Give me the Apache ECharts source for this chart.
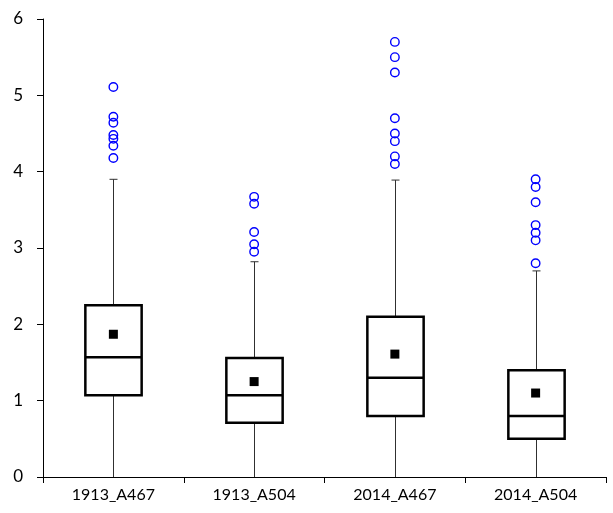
<!DOCTYPE html>
<html>
<head>
<meta charset="utf-8">
<script src="https://cdn.jsdelivr.net/npm/echarts@6/dist/echarts.min.js"></script>
<style>
  html, body { margin: 0; padding: 0; background: #fff; }
  #chart { width: 613px; height: 513px; }
</style>
</head>
<body>
<div id="chart"></div>
<script>
// Site/year groups along the x axis
const categories = ['1913_A467', '1913_A504', '2014_A467', '2014_A504'];

// Five-number summaries per group: [min, Q1, median, Q3, upper whisker]
const boxStats = [
  [0, 1.07, 1.57, 2.25, 3.90],
  [0, 0.71, 1.07, 1.56, 2.82],
  [0, 0.80, 1.30, 2.10, 3.89],
  [0, 0.50, 0.80, 1.40, 2.70]
];

// Group means
const means = [1.87, 1.25, 1.61, 1.10];

// Outlying values per group
const outliers = [
  [5.11, 4.72, 4.64, 4.48, 4.43, 4.34, 4.18],
  [3.67, 3.58, 3.21, 3.05, 2.95],
  [5.70, 5.50, 5.30, 4.70, 4.50, 4.40, 4.20, 4.10],
  [3.90, 3.80, 3.60, 3.30, 3.20, 3.10, 2.80]
];

// Y axis ticks
const yTicks = [0, 1, 2, 3, 4, 5, 6];

const boxData = boxStats.map((s, i) => [i].concat(s));
const meanData = means.map((m, i) => [i, m]);
const outlierData = [];
outliers.forEach((list, i) => list.forEach(v => outlierData.push([i, v])));

const FONT = 'Lato, "Open Sans", sans-serif';

function renderBox(params, api) {
  const idx = api.value(0);
  const pMin = api.coord([idx, api.value(1)]);
  const pQ1 = api.coord([idx, api.value(2)]);
  const pMed = api.coord([idx, api.value(3)]);
  const pQ3 = api.coord([idx, api.value(4)]);
  const pMax = api.coord([idx, api.value(5)]);
  const bandW = api.size([1, 0])[0];
  const half = bandW * 0.2;
  const cap = 4;
  const x = Math.round(pQ1[0]) + 0.5;
  const whisker = { stroke: '#303030', lineWidth: 1 };
  const boxLine = { stroke: '#000', lineWidth: 2.5, fill: null };
  return {
    type: 'group',
    children: [
      { type: 'line', shape: { x1: x, y1: pQ3[1], x2: x, y2: pMax[1] }, style: whisker },
      { type: 'line', shape: { x1: x - cap, y1: pMax[1], x2: x + cap, y2: pMax[1] }, style: whisker },
      { type: 'line', shape: { x1: x, y1: pQ1[1], x2: x, y2: pMin[1] }, style: whisker },
      { type: 'rect', shape: { x: x - half, y: pQ3[1], width: half * 2, height: pQ1[1] - pQ3[1] },
        style: { stroke: '#000', lineWidth: 2.5, fill: '#fff' } },
      { type: 'line', shape: { x1: x - half, y1: pMed[1], x2: x + half, y2: pMed[1] }, style: boxLine }
    ]
  };
}

const chart = echarts.init(document.getElementById('chart'), null, { renderer: 'canvas' });
chart.setOption({
  animation: false,
  backgroundColor: '#fff',
  grid: { left: 43, right: 7, top: 19, bottom: 36, containLabel: false },
  xAxis: {
    type: 'category',
    data: categories,
    boundaryGap: true,
    axisLine: { lineStyle: { color: '#000', width: 1 } },
    axisTick: { show: true, length: 6, lineStyle: { color: '#000' } },
    axisLabel: { color: '#000', fontSize: 16, fontFamily: FONT, margin: 10 },
    splitLine: { show: false }
  },
  yAxis: {
    type: 'value',
    min: yTicks[0],
    max: yTicks[yTicks.length - 1],
    interval: 1,
    axisLine: { show: true, lineStyle: { color: '#000', width: 1 } },
    axisTick: { show: true, length: 6, lineStyle: { color: '#000' } },
    axisLabel: { color: '#000', fontSize: 17, fontFamily: FONT, margin: 20 },
    splitLine: { show: false }
  },
  series: [
    {
      type: 'custom',
      renderItem: renderBox,
      data: boxData,
      encode: { x: 0, y: [1, 2, 3, 4, 5] },
      z: 2
    },
    {
      type: 'scatter',
      data: meanData,
      symbol: 'rect',
      symbolSize: 9,
      itemStyle: { color: '#000', opacity: 1 },
      z: 3
    },
    {
      type: 'scatter',
      data: outlierData,
      symbol: 'circle',
      symbolSize: 8.5,
      itemStyle: { color: 'rgba(255,255,255,0)', borderColor: '#0000ff', borderWidth: 1.4, opacity: 1 },
      z: 3
    }
  ]
});
</script>
</body>
</html>
